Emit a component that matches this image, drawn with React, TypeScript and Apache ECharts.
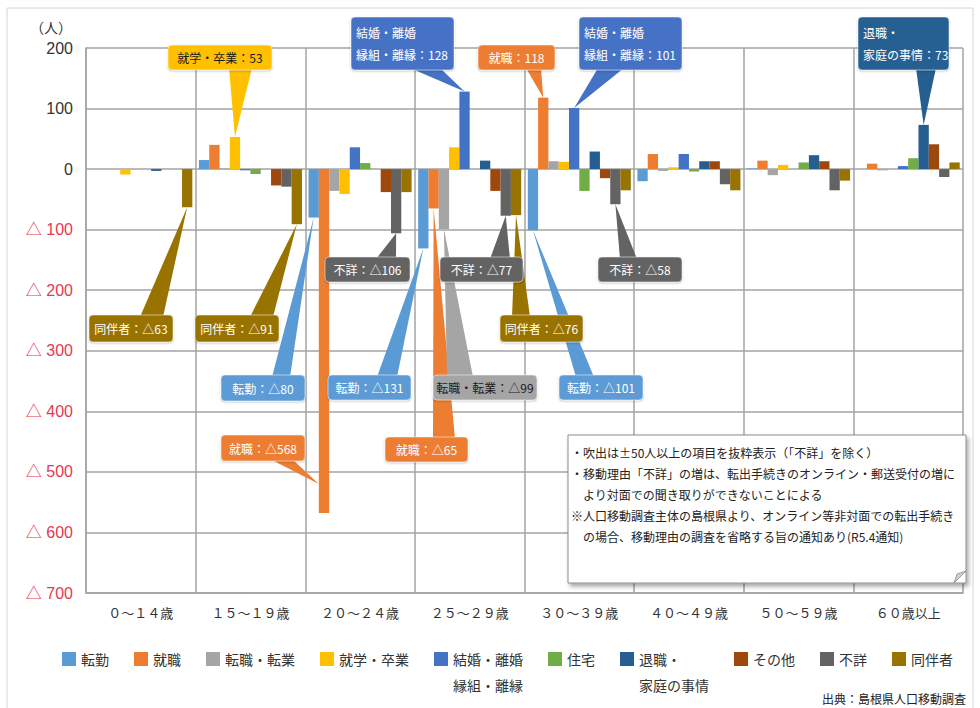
import React, { useEffect, useRef } from "react";
import * as echarts from "echarts";

// ---- data ----
const categories = ["０～１４歳", "１５～１９歳", "２０～２４歳", "２５～２９歳", "３０～３９歳", "４０～４９歳", "５０～５９歳", "６０歳以上"];
const seriesNames = ["転勤", "就職", "転職・転業", "就学・卒業", "結婚・離婚・縁組・離縁", "住宅", "退職・家庭の事情", "その他", "不詳", "同伴者"];
const legendLabels = ["転勤", "就職", "転職・転業", "就学・卒業", "結婚・離婚\n縁組・離縁", "住宅", "退職・\n家庭の事情", "その他", "不詳", "同伴者"];
const colors = ["#5B9BD5", "#ED7D31", "#A5A5A5", "#FFC000", "#4472C4", "#70AD47", "#255E91", "#9E480E", "#636363", "#997300"];

const tenkin = [0, 15, -80, -131, -101, -20, 1, 0];
const shushoku = [0, 40, -568, -65, 118, 25, 14, 9];
const tenshoku = [0, 1, -36, -99, 13, -3, -10, -2];
const shugaku = [-9, 53, -41, 36, 12, 3, 7, 0];
const kekkon = [0, -2, 36, 128, 101, 25, 0, 5];
const jutaku = [0, -8, 10, 0, -36, -4, 11, 18];
const taishoku = [-3, 0, 0, 14, 29, 13, 23, 73];
const sonota = [0, -27, -38, -36, -15, 13, 13, 41];
const fusho = [0, -29, -106, -77, -58, -25, -35, -13];
const dohansha = [-63, -91, -38, -76, -35, -35, -19, 11];
const seriesValues = [tenkin, shushoku, tenshoku, shugaku, kekkon, jutaku, taishoku, sonota, fusho, dohansha];

const yMin = -700;
const yMax = 200;
const yStep = 100;

const noteLines = [
  "・吹出は±50人以上の項目を抜粋表示（「不詳」を除く）",
  "・移動理由「不詳」の増は、転出手続きのオンライン・郵送受付の増に",
  "　より対面での聞き取りができないことによる",
  "※人口移動調査主体の島根県より、オンライン等非対面での転出手続き",
  "　の場合、移動理由の調査を省略する旨の通知あり(R5.4通知)",
];
const sourceText = "出典：島根県人口移動調査";

// callouts: series index, category index, box layout, pointer base
type Callout = { s: number; c: number; box: number[]; base: number[]; edge: "top" | "bottom"; tipValue?: number; tipSide?: "left" };
const callouts: Callout[] = [
  { s: 3, c: 1, box: [168, 45, 104, 25], base: [229, 252], edge: "bottom" },
  { s: 9, c: 0, box: [89, 315, 84, 27], base: [140, 163], edge: "top" },
  { s: 9, c: 1, box: [195, 315, 84, 27], base: [250, 273], edge: "top" },
  { s: 0, c: 2, box: [221, 375, 84, 26], base: [272, 290], edge: "top" },
  { s: 1, c: 2, box: [221, 435, 84, 26], base: [270, 292], edge: "bottom", tipValue: -520, tipSide: "left" },
  { s: 8, c: 2, box: [325, 257, 85, 25], base: [376, 396], edge: "top" },
  { s: 0, c: 3, box: [328, 375, 83, 25], base: [377, 397], edge: "top" },
  { s: 8, c: 3, box: [440, 257, 83, 25], base: [490, 510], edge: "top" },
  { s: 1, c: 3, box: [385, 437, 83, 25], base: [433, 455], edge: "top" },
  { s: 2, c: 3, box: [433, 375, 104, 25], base: [447, 473], edge: "top" },
  { s: 9, c: 3, box: [500, 315, 83, 27], base: [512, 530], edge: "top" },
  { s: 0, c: 4, box: [559, 375, 84, 25], base: [576, 594], edge: "top" },
  { s: 8, c: 4, box: [598, 257, 84, 25], base: [620, 637], edge: "top" },
  { s: 4, c: 3, box: [351, 17, 103, 53], base: [410, 440], edge: "bottom" },
  { s: 1, c: 4, box: [478, 45, 77, 25], base: [526, 541], edge: "bottom" },
  { s: 4, c: 4, box: [579, 17, 103, 53], base: [598, 624], edge: "bottom" },
  { s: 6, c: 7, box: [858, 17, 91, 53], base: [916, 936], edge: "bottom" },
];

const FONT = "'Liberation Sans Narrow','Liberation Sans','Noto Sans CJK JP',sans-serif";
const CJK = "'Noto Sans CJK JP',sans-serif";
const GRID_COLOR = "#a3a3a3";
const CAT_GAP = 0.06;
const LEGEND_LH = 26;

const fmt = (v: number) => (v < 0 ? "△" + -v : String(v));

export default function App() {
  const ref = useRef<HTMLDivElement>(null);
  useEffect(() => {
    if (!ref.current) return;
    const chart = echarts.init(ref.current, undefined, { renderer: "svg" });
    const option: any = {
      animation: false,
      backgroundColor: "#ffffff",
      grid: { left: 86, right: 17, top: 48, bottom: 115, containLabel: false },
      legend: {
        left: 62,
        top: 659 - (LEGEND_LH * 3) / 2,
        padding: 0,
        itemWidth: 14,
        itemHeight: 14,
        itemGap: 25,
        icon: "rect",
        selectedMode: false,
        textStyle: { fontSize: 14, color: "#333", fontFamily: CJK, lineHeight: LEGEND_LH },
        // two-line labels get a blank first line so that their first text line sits beside the icon
        formatter: (name: string) => {
          const l = legendLabels[seriesNames.indexOf(name)];
          return l.indexOf("\n") >= 0 ? " \n" + l : l;
        },
        data: seriesNames,
      },
      xAxis: {
        type: "category",
        data: categories,
        position: "bottom",
        axisLine: { show: true, onZero: false, lineStyle: { color: GRID_COLOR, width: 1.5 } },
        axisTick: { show: false },
        splitLine: { show: true, lineStyle: { color: GRID_COLOR, width: 1.5 } },
        axisLabel: { interval: 0, fontSize: 13, color: "#333", margin: 13, fontFamily: CJK },
      },
      yAxis: {
        type: "value",
        min: yMin,
        max: yMax,
        interval: yStep,
        name: "（人）",
        nameLocation: "end",
        nameGap: 14,
        nameTextStyle: { fontSize: 14, color: "#333", align: "right", padding: [0, 14, 0, 0], fontFamily: CJK },
        axisLine: { show: true, lineStyle: { color: GRID_COLOR, width: 1.5 } },
        axisTick: { show: false },
        splitLine: { show: true, lineStyle: { color: GRID_COLOR, width: 1.5 } },
        axisLabel: {
          margin: 13,
          fontSize: 16,
          fontFamily: FONT,
          formatter: (v: number) => (v < 0 ? "△ " + -v : String(v)),
          color: (v: any) => (Number(v) < 0 ? "#E8384F" : "#333"),
        },
      },
      series: seriesNames.map((n, i) => ({
        name: n,
        type: "bar",
        data: seriesValues[i],
        barGap: "0%",
        barCategoryGap: CAT_GAP * 100 + "%",
        itemStyle: { color: colors[i] },
      })),
    };
    chart.setOption(option);

    const toPx = (c: number, v: number) => chart.convertToPixel({ gridIndex: 0 }, [c, v]) as number[];
    const band = toPx(1, 0)[0] - toPx(0, 0)[0];
    const bw = (band * (1 - CAT_GAP)) / seriesNames.length;

    const pointerEls: any[] = [];
    const boxEls: any[] = [];
    callouts.forEach((co) => {
      const v = seriesValues[co.s][co.c];
      const center = toPx(co.c, 0)[0];
      const barLeft = center - (bw * seriesNames.length) / 2 + co.s * bw;
      const tipV = co.tipValue !== undefined ? co.tipValue : v;
      const tipX = co.tipSide === "left" ? barLeft : barLeft + bw / 2;
      const tipY = toPx(co.c, tipV)[1];
      const [bx, by, w, h] = co.box;
      const ey = co.edge === "top" ? by + 2 : by + h - 2;
      const col = colors[co.s];
      pointerEls.push({
        type: "polygon",
        shape: { points: [[co.base[0], ey], [co.base[1], ey], [tipX, tipY]] },
        style: { fill: col },
        z: 10,
      });
      const dark = co.s === 2 || co.s === 3;
      const label = legendLabels[co.s] + "：" + fmt(v);
      boxEls.push({
        type: "rect",
        shape: { x: bx, y: by, width: w, height: h, r: 4 },
        style: { fill: col, stroke: "rgba(255,255,255,0.5)", lineWidth: 1, shadowBlur: 2, shadowColor: "rgba(0,0,0,0.25)", shadowOffsetY: 1 },
        z: 11,
      });
      const multi = label.indexOf("\n") >= 0;
      boxEls.push({
        type: "text",
        x: multi ? bx + 5 : bx + w / 2,
        y: by + h / 2,
        style: {
          text: label,
          fill: dark ? "#1a1a1a" : "#ffffff",
          fontSize: 12,
          fontFamily: CJK,
          lineHeight: 22,
          align: multi ? "left" : "center",
          textAlign: multi ? "left" : "center",
          verticalAlign: "middle",
          textVerticalAlign: "middle",
        },
        z: 12,
      });
    });

    const staticEls: any[] = [
      {
        type: "rect",
        shape: { x: 7, y: 8, width: 966, height: 720 },
        style: { fill: "none", stroke: "#d6d6d6", lineWidth: 1 },
        z: 0,
      },
      {
        type: "rect",
        shape: { x: 568, y: 435, width: 398, height: 148 },
        style: { fill: "#ffffff", stroke: "#8c8c8c", lineWidth: 1, shadowBlur: 4, shadowOffsetX: 2, shadowOffsetY: 3, shadowColor: "rgba(0,0,0,0.35)" },
        z: 20,
      },
      {
        type: "polygon",
        shape: { points: [[954, 583], [966, 571], [957, 574]] },
        style: { fill: "#cfcfcf", stroke: "#8c8c8c", lineWidth: 0.8 },
        z: 21,
      },
      {
        type: "text",
        x: 571,
        y: 442,
        style: {
          text: noteLines.join("\n"),
          fill: "#222",
          fontSize: 12,
          fontFamily: CJK,
          lineHeight: 21,
          align: "left",
          textAlign: "left",
          verticalAlign: "top",
          textVerticalAlign: "top",
        },
        z: 22,
      },
      {
        type: "text",
        x: 966,
        y: 698,
        style: {
          text: sourceText,
          fill: "#222",
          fontSize: 12,
          fontFamily: CJK,
          align: "right",
          textAlign: "right",
          verticalAlign: "middle",
          textVerticalAlign: "middle",
        },
        z: 22,
      },
    ];

    chart.setOption({ graphic: { elements: [...staticEls, ...pointerEls, ...boxEls] } });

    return () => chart.dispose();
  }, []);
  return <div ref={ref} style={{ position: "fixed", left: 0, top: 0, width: 980, height: 708 }} />;
}
